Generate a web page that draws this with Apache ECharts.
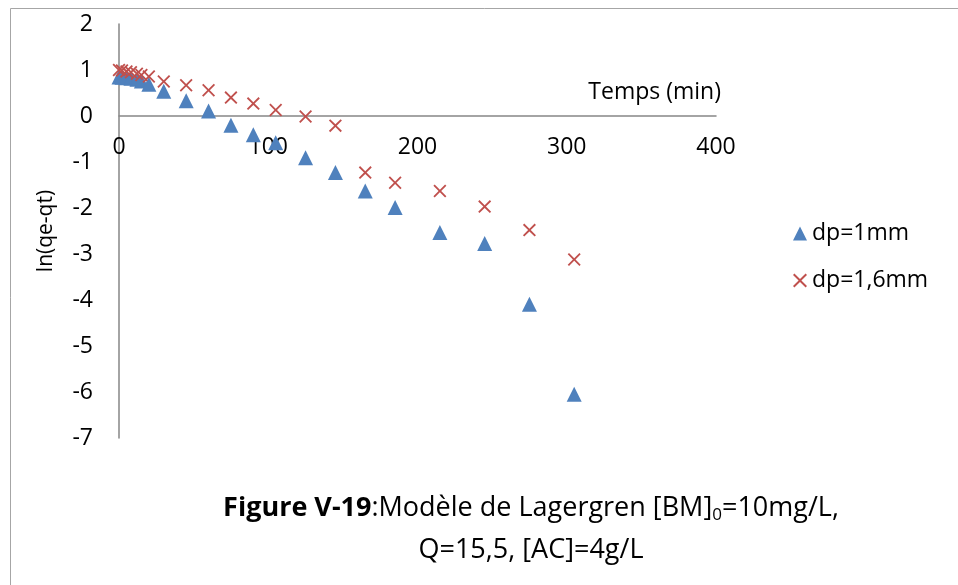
<!DOCTYPE html>
<html>
<head>
<meta charset="utf-8">
<script src="https://cdn.jsdelivr.net/npm/echarts@6/dist/echarts.min.js"></script>
<style>
  html, body { margin: 0; padding: 0; background: #fff; }
  #chart { width: 958px; height: 585px; }
</style>
</head>
<body>
<div id="chart"></div>
<script>
// temps (min)
const temps = [0, 2, 5, 8, 12, 15, 20, 30, 45, 60, 75, 90, 105, 125, 145, 165, 185, 215, 245, 275, 305];
// ln(qe-qt), dp=1mm
const dp1 = [0.85, 0.84, 0.83, 0.82, 0.8, 0.76, 0.69, 0.54, 0.33, 0.11, -0.2, -0.41, -0.58, -0.91, -1.23, -1.63, -1.99, -2.53, -2.77, -4.09, -6.05];
// ln(qe-qt), dp=1,6mm
const dp16 = [1.0, 0.99, 0.97, 0.95, 0.92, 0.89, 0.86, 0.75, 0.67, 0.56, 0.4, 0.27, 0.13, -0.01, -0.21, -1.23, -1.45, -1.63, -1.97, -2.48, -3.12];
const seriesNames = ["dp=1mm", "dp=1,6mm"];

const FONT = "'Open Sans', Lato, sans-serif";
const crossPath = "path://M0,1L1,0L5,4L9,0L10,1L6,5L10,9L9,10L5,6L1,10L0,9L4,5Z";

function toPoints(ys) {
  return temps.map((t, i) => [t, ys[i]]);
}

const chart = echarts.init(document.getElementById("chart"));
const option = {
  animation: false,
  textStyle: { fontFamily: FONT },
  graphic: [
    {
      type: "rect",
      shape: { x: 10.5, y: 8.5, width: 960, height: 600 },
      style: { fill: "none", stroke: "#a6a6a6", lineWidth: 1 },
    },
  ],
  title: {
    left: 526,
    top: 482,
    textAlign: "center",
    text: "{b|Figure V-19}:Modèle de Lagergren [BM]{s|0}=10mg/L,\nQ=15,5, [AC]=4g/L",
    textStyle: {
      fontFamily: FONT,
      fontWeight: "normal",
      fontSize: 27,
      color: "#000",
      lineHeight: 42,
      rich: {
        b: { fontFamily: FONT, fontWeight: "bold", fontSize: 27, color: "#000" },
        s: { fontFamily: FONT, fontSize: 17, color: "#000", padding: [14, 0, 0, 0] },
      },
    },
  },
  legend: {
    orient: "vertical",
    left: 788,
    top: 217,
    itemGap: 24,
    itemWidth: 14,
    itemHeight: 14,
    textStyle: { fontFamily: FONT, fontSize: 23, color: "#000" },
    data: seriesNames,
  },
  grid: { left: 119, right: 242, top: 24, bottom: 147 },
  xAxis: {
    type: "value",
    min: 0,
    max: 400,
    interval: 100,
    position: "bottom",
    offset: -322,
    name: "Temps (min)",
    nameLocation: "end",
    nameGap: 5,
    nameTextStyle: {
      fontFamily: FONT,
      fontSize: 23,
      color: "#000",
      align: "right",
      verticalAlign: "bottom",
      padding: [0, 0, 12, 0],
    },
    axisLine: { onZero: false, lineStyle: { color: "#868686", width: 1.5 } },
    axisTick: { show: false },
    splitLine: { show: false },
    axisLabel: { fontFamily: FONT, fontSize: 23, color: "#000", margin: 20 },
  },
  yAxis: {
    type: "value",
    min: -7,
    max: 2,
    interval: 1,
    name: "ln(qe-qt)",
    nameLocation: "middle",
    nameGap: 62,
    nameTextStyle: { fontFamily: FONT, fontSize: 21, color: "#000" },
    axisLine: { show: true, lineStyle: { color: "#868686", width: 1.5 } },
    axisTick: { show: false },
    splitLine: { show: false },
    axisLabel: { fontFamily: FONT, fontSize: 23, color: "#000", margin: 26 },
  },
  series: [
    {
      name: seriesNames[0],
      type: "scatter",
      symbol: "triangle",
      symbolSize: 15,
      itemStyle: { color: "#4f81bd", opacity: 1 },
      data: toPoints(dp1),
    },
    {
      name: seriesNames[1],
      type: "scatter",
      symbol: crossPath,
      symbolSize: 13,
      itemStyle: { color: "#c0504d", opacity: 1 },
      data: toPoints(dp16),
    },
  ],
};
chart.setOption(option);
</script>
</body>
</html>
